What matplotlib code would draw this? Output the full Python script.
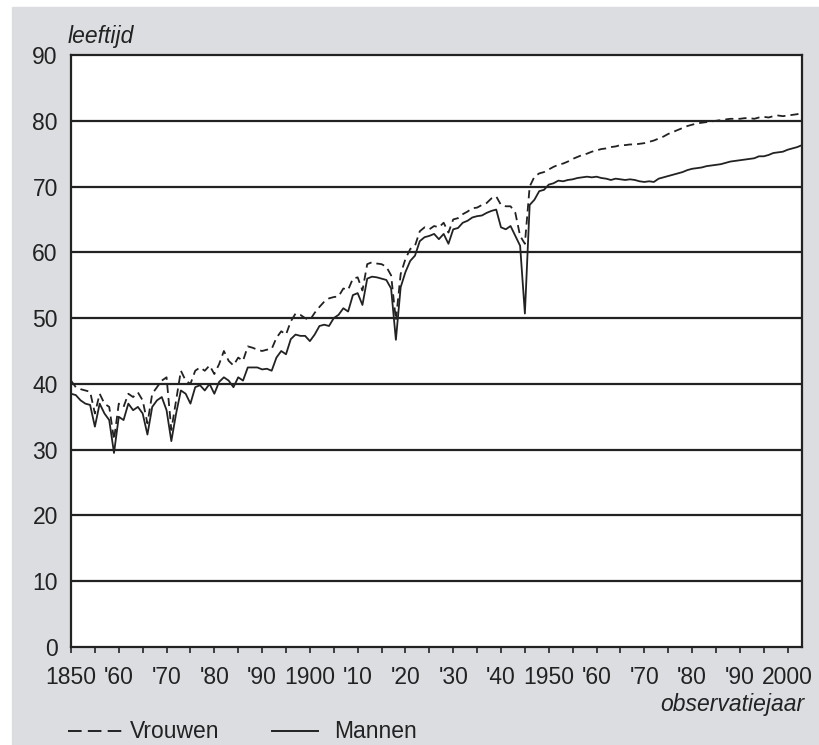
import matplotlib
matplotlib.use("Agg")
import matplotlib.pyplot as plt
from matplotlib.lines import Line2D
from matplotlib.patches import Rectangle

# levensverwachting bij geboorte
years = list(range(1850, 2004))

mannen = [
    38.5, 38.3, 37.5, 37.0, 36.8, 33.5, 37.0, 35.5, 34.5, 29.5,  # 1850-59
    35.0, 34.5, 37.0, 36.0, 36.5, 35.5, 32.3, 36.5, 37.5, 38.0,  # 1860-69
    36.0, 31.3, 35.5, 39.0, 38.5, 37.0, 39.5, 39.8, 39.0, 40.0,  # 1870-79
    38.5, 40.3, 41.0, 40.5, 39.5, 41.0, 40.5, 42.5, 42.5, 42.5,  # 1880-89
    42.2, 42.3, 42.0, 44.0, 45.0, 44.5, 46.8, 47.5, 47.3, 47.3,  # 1890-99
    46.5, 47.5, 48.8, 49.0, 48.8, 50.0, 50.5, 51.5, 51.0, 53.5,  # 1900-09
    53.8, 52.0, 56.0, 56.3, 56.2, 56.0, 55.8, 54.5, 46.7, 54.7,  # 1910-19
    57.0, 58.7, 59.5, 61.7, 62.3, 62.5, 62.8, 62.0, 62.8, 61.3,  # 1920-29
    63.5, 63.7, 64.5, 64.8, 65.3, 65.5, 65.6, 66.0, 66.3, 66.5,  # 1930-39
    63.8, 63.5, 64.0, 62.5, 61.0, 50.7, 67.2, 68.0, 69.3, 69.5,  # 1940-49
    70.3, 70.5, 70.9, 70.8, 71.0, 71.1, 71.3, 71.4, 71.5, 71.4,  # 1950-59
    71.5, 71.3, 71.2, 71.0, 71.2, 71.1, 71.0, 71.1, 71.0, 70.8,  # 1960-69
    70.7, 70.8, 70.7, 71.2, 71.4, 71.6, 71.8, 72.0, 72.2, 72.5,  # 1970-79
    72.7, 72.8, 72.9, 73.1, 73.2, 73.3, 73.4, 73.6, 73.8, 73.9,  # 1980-89
    74.0, 74.1, 74.2, 74.3, 74.6, 74.6, 74.8, 75.1, 75.2, 75.3,  # 1990-99
    75.6, 75.8, 76.0, 76.3,                                      # 2000-03
]

vrouwen = [
    40.5, 39.5, 39.2, 39.0, 38.8, 35.5, 38.5, 37.0, 36.5, 31.5,
    37.0, 36.5, 38.5, 38.0, 38.7, 37.5, 34.0, 38.5, 39.5, 40.5,
    41.0, 33.0, 37.5, 42.0, 40.5, 40.0, 42.0, 42.5, 42.0, 42.8,
    41.5, 43.0, 45.0, 43.5, 42.8, 44.0, 43.5, 45.7, 45.5, 45.2,
    45.0, 45.2, 45.3, 47.0, 48.0, 47.5, 49.5, 50.7, 50.5, 50.0,
    49.7, 50.8, 51.7, 52.5, 53.0, 53.2, 53.3, 54.5, 54.3, 56.0,
    56.2, 54.2, 58.2, 58.5, 58.3, 58.2, 57.8, 56.5, 49.7, 56.7,
    59.0, 60.5, 61.0, 63.2, 63.8, 63.5, 64.0, 63.8, 64.5, 63.0,
    65.0, 65.2, 65.8, 66.2, 66.7, 66.8, 67.2, 67.5, 68.2, 68.5,
    67.2, 67.0, 67.0, 66.0, 62.5, 61.3, 70.0, 71.5, 72.0, 72.2,
    72.6, 73.0, 73.3, 73.5, 73.8, 74.2, 74.5, 74.8, 75.0, 75.3,
    75.5, 75.7, 75.8, 76.0, 76.1, 76.3, 76.3, 76.4, 76.4, 76.5,
    76.6, 76.8, 77.0, 77.3, 77.6, 78.0, 78.3, 78.6, 78.9, 79.2,
    79.4, 79.6, 79.7, 79.8, 79.9, 80.0, 80.1, 80.2, 80.3, 80.3,
    80.3, 80.4, 80.4, 80.3, 80.5, 80.6, 80.5, 80.7, 80.8, 80.7,
    80.8, 80.9, 81.0, 81.2,
]

xticks = list(range(1850, 2005, 5))
xlabels_10 = ["1850", "'60", "'70", "'80", "'90", "1900", "'10", "'20", "'30",
              "'40", "1950", "'60", "'70", "'80", "'90", "2000"]
yticks = list(range(0, 100, 10))

bg = "#dcdde1"
ink = "#222222"
sans = ["Liberation Sans", "DejaVu Sans"]
fs = 16.5

W, H = 819, 745
fig = plt.figure(figsize=(W / 100, H / 100), dpi=100)
fig.patch.set_facecolor("white")
fig.patches.append(Rectangle((12 / W, 0), 1, (H - 7) / H,
                             transform=fig.transFigure, color=bg, zorder=-10))

ax = fig.add_axes([71 / W, (H - 647) / H, (802 - 71) / W, (647 - 55) / H])
ax.set_facecolor("white")

dash = (0, (4.5, 2.8))
ax.plot(years, vrouwen, color=ink, lw=1.3, ls=dash)
ax.plot(years, mannen, color=ink, lw=1.3)

ax.set_xlim(1850, 2003)
ax.set_ylim(0, 90)

for v in yticks[1:-1]:
    ax.axhline(v, color=ink, lw=1.6, zorder=0)

ax.set_yticks(yticks)
ax.set_yticklabels([str(v) for v in yticks], family=sans, fontsize=fs, color=ink)
ax.tick_params(axis="y", length=0, pad=9.5)

labels = []
for i, t in enumerate(xticks):
    labels.append(xlabels_10[i // 2] if i % 2 == 0 else "")
ax.set_xticks(xticks)
ax.set_xticklabels(labels, family=sans, fontsize=fs, color=ink)
ax.tick_params(axis="x", direction="out", length=4, width=1.2, pad=10, color=ink)

for s in ax.spines.values():
    s.set_color(ink)
    s.set_linewidth(1.6)

fig.text(68 / W, (H - 37) / H, "leeftijd", style="italic", family=sans,
         fontsize=fs, va="center", ha="left", color=ink)
fig.text(804 / W, (H - 704) / H, "observatiejaar", style="italic", family=sans,
         fontsize=fs, va="center", ha="right", color=ink)

# legenda
ly = (H - 731) / H
fig.add_artist(Line2D([68 / W, 126 / W], [ly, ly], color=ink, lw=1.4,
                      ls=(0, (7, 3.2))))
fig.text(130 / W, ly, "Vrouwen", family=sans, fontsize=fs, va="center",
         ha="left", color=ink)
fig.add_artist(Line2D([272 / W, 318 / W], [ly, ly], color=ink, lw=1.4))
fig.text(334 / W, ly, "Mannen", family=sans, fontsize=fs, va="center",
         ha="left", color=ink)

plt.savefig("out.png", dpi=100, facecolor=fig.get_facecolor())
